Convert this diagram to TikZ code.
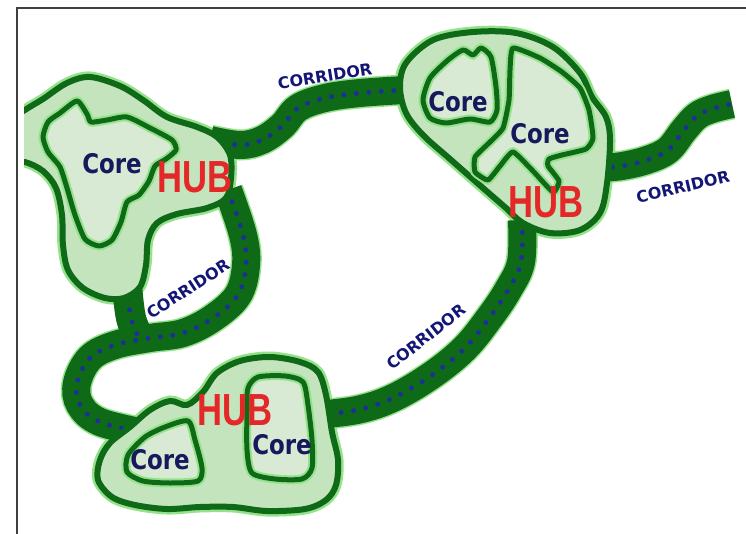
\documentclass[tikz,border=0pt]{standalone}
\usepackage{fontspec}
\newfontfamily\corefont[FakeStretch=0.85]{DejaVu Sans}
\newfontfamily\corrfont{DejaVu Sans}
\newfontfamily\hubfont[FakeStretch=0.77]{Liberation Sans}
\definecolor{leaf}{RGB}{14,106,22}
\definecolor{halo}{RGB}{150,226,140}
\definecolor{hubfill}{RGB}{196,228,190}
\definecolor{corefill}{RGB}{216,233,212}
\definecolor{navy}{RGB}{22,26,92}
\definecolor{trailblue}{RGB}{28,48,150}
\definecolor{hubred}{RGB}{228,40,40}

\def\hubA{plot[smooth cycle, tension=0.55] coordinates {(10,122) (25,110) (43,99) (67,83) (90,77) (120,86) (143,100) (167,117) (197,127) (217,137) (230,155) (231,178) (226,198) (207,208) (177,214) (157,223) (148,240) (146,265) (140,287) (124,298) (105,298) (83,288) (68,270) (63,245) (62,215) (56,188) (43,171) (25,162) (10,162)}}
\def\hubB{plot[smooth cycle, tension=0.55] coordinates {(400,87) (406,63) (433,40) (473,32) (516,33) (553,47) (580,73) (592,97) (606,117) (610,140) (607,183) (600,213) (580,230) (550,233) (523,223) (506,208) (483,188) (450,159) (423,135) (406,113)}}
\def\hubC{plot[smooth cycle, tension=0.55] coordinates {(100,460) (110,443) (130,427) (150,410) (170,401) (187,405) (203,392) (217,373) (240,361) (270,357) (300,362) (318,372) (326,395) (332,432) (338,460) (336,485) (326,500) (305,509) (267,511) (233,507) (200,507) (167,509) (135,505) (112,497) (98,480)}}

\def\coreA{plot[smooth cycle, tension=0.4] coordinates {(43,137) (48,122) (60,113) (77,101) (87,114) (91,122) (107,120) (127,117) (150,128) (172,140) (176,150) (166,159) (155,166) (149,181) (139,195) (127,202) (121,222) (112,240) (99,246) (85,239) (75,215) (67,188) (60,167) (48,152)}}
\def\coreBa{plot[smooth cycle, tension=0.4] coordinates {(423,100) (430,78) (448,60) (463,50) (473,55) (481,48) (491,57) (496,87) (497,110) (490,122) (470,119) (446,123) (430,118)}}
\def\coreBb{plot[smooth cycle, tension=0.3] coordinates {(513,48) (540,58) (562,72) (580,88) (589,110) (593,138) (586,149) (562,155) (549,159) (548,166) (559,181) (553,192) (532,170) (513,152) (500,166) (488,180) (475,172) (475,157) (490,142) (503,128) (509,100) (510,70)}}
\def\coreCa{plot[smooth cycle, tension=0.45] coordinates {(128,455) (145,437) (165,427) (188,421) (195,440) (202,468) (198,481) (170,483) (143,481) (127,472)}}
\def\coreCb{plot[smooth cycle, tension=0.45] coordinates {(248,388) (258,377) (285,376) (303,382) (308,405) (312,440) (312,468) (302,479) (275,479) (252,473) (247,450) (247,410)}}

\def\corrTop{plot[smooth, tension=0.6] coordinates {(210,140) (240,145) (262,140) (282,126) (298,108) (325,98) (360,93) (405,90)}}
\def\corrEast{plot[smooth, tension=0.6] coordinates {(600,168) (622,166) (647,160) (668,150) (684,130) (697,116) (712,109) (732,104)}}
\def\corrSouth{plot[smooth, tension=0.6] coordinates {(522,220) (521,262) (508,290) (490,317) (465,348) (432,375) (393,398) (357,410) (315,415)}}
\def\corrWest{plot[smooth, tension=0.6] coordinates {(228,190) (243,235) (246,265) (238,295) (213,318) (183,333) (150,338) (115,345) (90,358) (77,383) (80,405) (100,422) (145,433)}}
\def\corrNeck{plot[smooth, tension=0.6] coordinates {(127,285) (131,318) (140,340)}}

\begin{document}
\begin{tikzpicture}[x=1pt, y=-1pt,
  bandglow/.style={draw=halo, line width=31pt, line cap=butt},
  band/.style={draw=leaf, line width=28pt, line cap=butt},
  trail/.style={draw=trailblue, line width=5pt, line cap=round, dash pattern=on 0pt off 12.5pt},
  hubglow/.style={draw=halo, line width=11pt},
  hubline/.style={draw=leaf, line width=6pt, line join=round},
  coreglow/.style={draw=halo, line width=9pt},
  coreline/.style={draw=leaf, line width=5pt, line join=round},
  corelbl/.style={text=navy, inner sep=0pt, font=\corefont\bfseries\fontsize{27}{27}\selectfont},
  hublbl/.style={text=hubred, inner sep=0pt, font=\hubfont\bfseries\fontsize{45}{45}\selectfont},
  corrlbl/.style={text=navy!85!blue, inner sep=0pt, font=\corrfont\bfseries\fontsize{16}{16}\selectfont}]
\fill[white] (0,0) rectangle (746,534);
\useasboundingbox (0,0) rectangle (746,534);
\draw[line width=1.5pt, black!75] (17,534) -- (17,8) -- (746,8);

\begin{scope}
\clip (24,10) rectangle (746,534);

\node[corrlbl, rotate=9] (corrtoplbl) at (325,76) {CORRIDOR};
\node[corrlbl, rotate=13] (correastlbl) at (683,187) {CORRIDOR};
\node[corrlbl, rotate=38] (corrsouthlbl) at (426,337) {CORRIDOR};
\node[corrlbl, rotate=33] (corrwestlbl) at (188,289) {CORRIDOR};

\draw[hubglow] \hubA;
\draw[hubglow] \hubB;
\draw[hubglow] \hubC;
\draw[bandglow] \corrTop;
\draw[bandglow] \corrEast;
\draw[bandglow] \corrSouth;
\draw[bandglow] \corrWest;

\draw[band] \corrTop;
\draw[band] \corrEast;
\draw[band] \corrSouth;
\draw[band] \corrWest;
\draw[band, line width=30pt] \corrNeck;
\draw[trail] \corrTop;
\draw[trail] \corrEast;
\draw[trail] \corrSouth;
\draw[trail] \corrWest;
\draw[trail] \corrNeck;

\fill[hubfill] \hubA;
\fill[hubfill] \hubB;
\fill[hubfill] \hubC;
\draw[hubline] \hubA;
\draw[hubline] \hubB;
\draw[hubline] \hubC;

\foreach \c in {\coreA,\coreBa,\coreBb,\coreCa,\coreCb}
  \draw[coreglow, fill=corefill] \c;
\foreach \c in {\coreA,\coreBa,\coreBb,\coreCa,\coreCb}
  \draw[coreline] \c;
\end{scope}

\node[corelbl] (coreW) at (112,164) {Core};
\node[corelbl] (coreNa) at (458,102) {Core};
\node[corelbl] (coreNb) at (540,134) {Core};
\node[corelbl] (coreSa) at (160,460) {Core};
\node[corelbl] (coreSb) at (282,445) {Core};

\node[hublbl] (hubW) at (195,177) {HUB};
\node[hublbl] (hubN) at (546,202) {HUB};
\node[hublbl] (hubS) at (235,410) {HUB};
\end{tikzpicture}
\end{document}
